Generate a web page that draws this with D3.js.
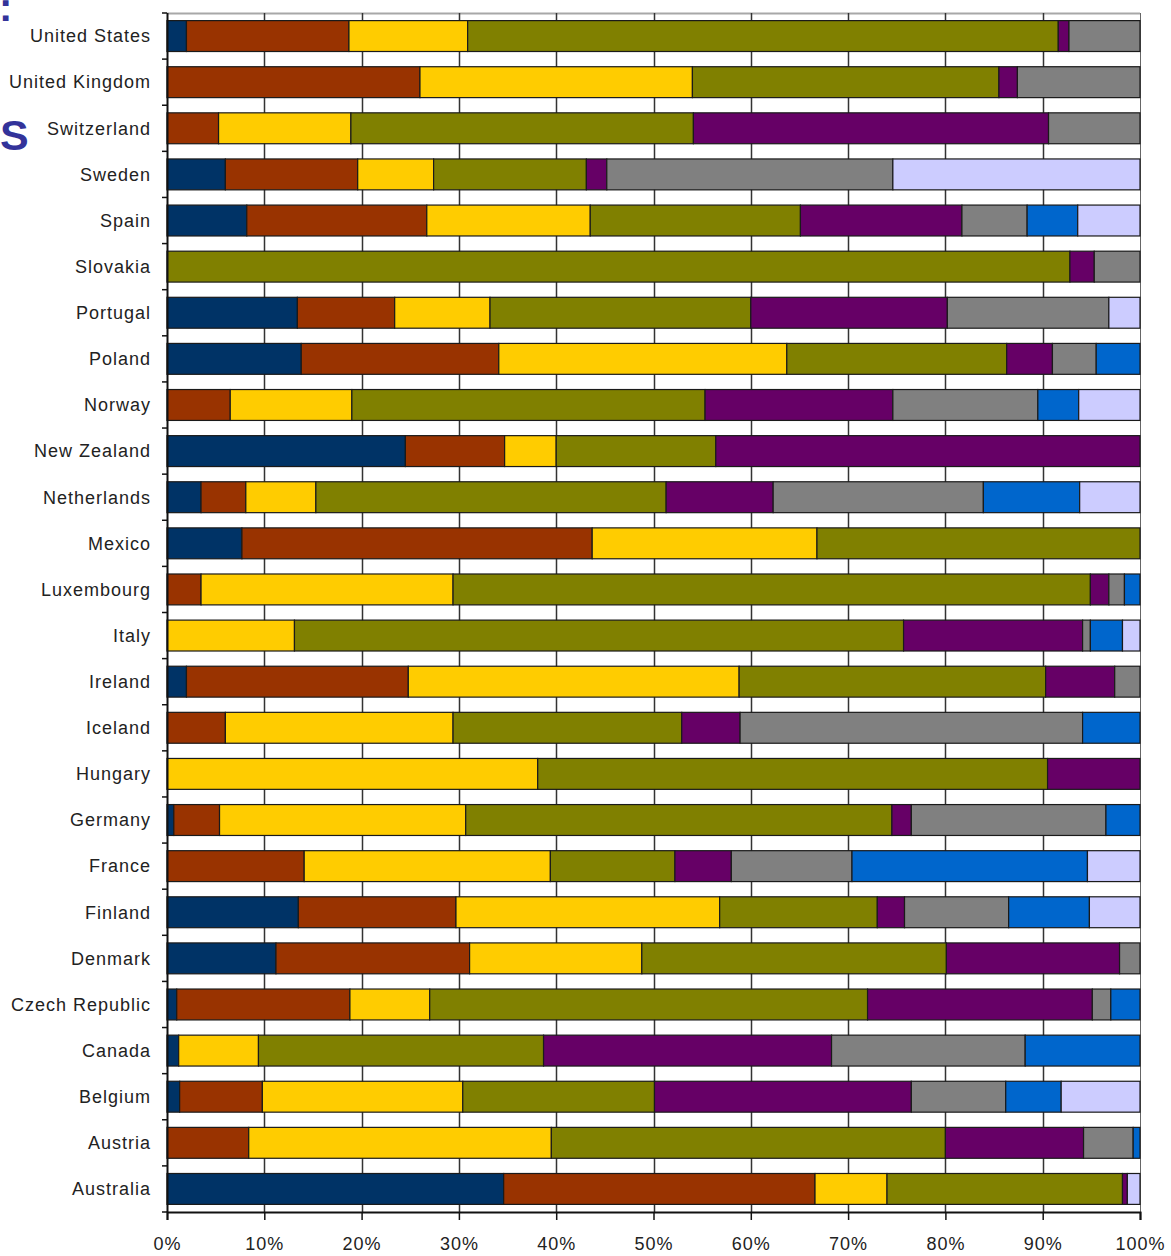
<!DOCTYPE html>
<html>
<head>
<meta charset="utf-8">
<script src="https://cdn.jsdelivr.net/npm/d3@7"></script>
<style>
  body { margin: 0; background: #fff; }
  svg { display: block; }
  .label { font-family: "Liberation Sans", Arial, sans-serif; font-size: 18px; letter-spacing: 1px; fill: #222; }
  .tick-x { font-family: "Liberation Sans", Arial, sans-serif; font-size: 18px; letter-spacing: 1px; fill: #222; }
  .title { font-family: "Liberation Sans", Arial, sans-serif; font-weight: bold; fill: #33339a; }
</style>
</head>
<body>
<div id="chart"></div>
<script>
// countries, top to bottom
var countries = ["United States", "United Kingdom", "Switzerland", "Sweden", "Spain", "Slovakia",
  "Portugal", "Poland", "Norway", "New Zealand", "Netherlands", "Mexico", "Luxembourg", "Italy",
  "Ireland", "Iceland", "Hungary", "Germany", "France", "Finland", "Denmark", "Czech Republic",
  "Canada", "Belgium", "Austria", "Australia"];

// shares in percent, one value per country, same order as above
var navy =     [2.0, 0, 0, 6.0, 8.2, 0, 13.4, 13.8, 0, 24.5, 3.5, 7.7, 0, 0, 2.0, 0, 0, 0.7, 0, 13.5, 11.2, 1.0, 1.2, 1.3, 0, 34.6];
var brown =    [16.7, 26.0, 5.3, 13.6, 18.5, 0, 10.0, 20.3, 6.5, 10.2, 4.6, 36.0, 3.5, 0, 22.8, 6.0, 0, 4.7, 14.1, 16.2, 19.9, 17.8, 0, 8.5, 8.4, 32.0];
var yellow =   [12.2, 28.0, 13.6, 7.8, 16.8, 0, 9.8, 29.6, 12.5, 5.3, 7.2, 23.1, 25.9, 13.1, 34.0, 23.4, 38.1, 25.3, 25.3, 27.1, 17.7, 8.2, 8.2, 20.6, 31.1, 7.4];
var olive =    [60.7, 31.5, 35.2, 15.7, 21.6, 92.8, 26.8, 22.6, 36.3, 16.4, 36.0, 33.2, 65.5, 62.6, 31.5, 23.5, 52.4, 43.8, 12.8, 16.2, 31.3, 45.0, 29.3, 19.7, 40.5, 24.2];
var purple =   [1.1, 1.9, 36.5, 2.1, 16.6, 2.5, 20.2, 4.7, 19.3, 43.6, 11.0, 0, 1.9, 18.4, 7.1, 6.0, 9.5, 2.0, 5.8, 2.8, 17.8, 23.1, 29.6, 26.4, 14.2, 0.5];
var gray =     [7.3, 12.6, 9.4, 29.4, 6.7, 4.7, 16.6, 4.5, 14.9, 0, 21.6, 0, 1.6, 0.8, 2.6, 35.2, 0, 20.0, 12.4, 10.7, 2.1, 1.9, 19.9, 9.7, 5.1, 0];
var blue =     [0, 0, 0, 0, 5.2, 0, 0, 4.5, 4.2, 0, 9.9, 0, 1.6, 3.3, 0, 5.9, 0, 3.5, 24.2, 8.3, 0, 3.0, 11.8, 5.7, 0.7, 0];
var lavender = [0, 0, 0, 25.4, 6.4, 0, 3.2, 0, 6.3, 0, 6.2, 0, 0, 1.8, 0, 0, 0, 0, 5.4, 5.2, 0, 0, 0, 8.1, 0, 1.3];

var seriesNames = ["navy", "brown", "yellow", "olive", "purple", "gray", "blue", "lavender"];
var seriesValues = [navy, brown, yellow, olive, purple, gray, blue, lavender];
var seriesColors = ["#003366", "#993300", "#ffcc00", "#808000", "#660066", "#808080", "#0066cc", "#ccccff"];

var xTicks = [0, 10, 20, 30, 40, 50, 60, 70, 80, 90, 100];

var width = 1171;
var height = 1256;
var margin = { top: 13, right: 31, bottom: 44, left: 167 };
var innerW = width - margin.left - margin.right;
var innerH = height - margin.top - margin.bottom;

// table the stack needs
var rows = countries.map(function(c, i) {
  var r = { country: c };
  seriesNames.forEach(function(s, j) { r[s] = seriesValues[j][i]; });
  return r;
});

var stack = d3.stack().keys(seriesNames);
var layers = stack(rows);

var x = d3.scaleLinear().domain([0, 100]).range([0, innerW]);
var y = d3.scaleBand().domain(countries).range([0, innerH])
  .paddingInner(0.33).paddingOuter(0.165);

var svg = d3.select("#chart").append("svg")
  .attr("width", width)
  .attr("height", height);

// slide title fragments at the left edge
svg.append("text").attr("class", "title")
  .attr("x", -1).attr("y", 21).style("font-size", "40px").text(":");
svg.append("text").attr("class", "title")
  .attr("x", 0).attr("y", 150).style("font-size", "43px").text("S");

var g = svg.append("g").attr("transform", "translate(" + margin.left + "," + margin.top + ")");

// top and right frame
g.append("line").attr("x1", 0).attr("x2", innerW).attr("y1", 0.5).attr("y2", 0.5)
  .attr("stroke", "#a8a8a8").attr("stroke-width", 2);
g.append("line").attr("x1", innerW + 0.5).attr("x2", innerW + 0.5).attr("y1", 0).attr("y2", innerH)
  .attr("stroke", "#666").attr("stroke-width", 1);

// vertical gridlines
g.append("g").selectAll("line")
  .data(xTicks.slice(1, -1))
  .join("line")
  .attr("x1", function(d) { return Math.round(x(d)) + 0.5; })
  .attr("x2", function(d) { return Math.round(x(d)) + 0.5; })
  .attr("y1", 0).attr("y2", innerH)
  .attr("stroke", "#333").attr("stroke-width", 1.5);

// bars
g.append("g").selectAll("g")
  .data(layers)
  .join("g")
  .attr("fill", function(d, i) { return seriesColors[i]; })
  .selectAll("rect")
  .data(function(d) { return d.filter(function(p) { return p[1] - p[0] > 0; }); })
  .join("rect")
  .attr("x", function(d) { return x(d[0]); })
  .attr("width", function(d) { return x(d[1]) - x(d[0]); })
  .attr("y", function(d) { return y(d.data.country); })
  .attr("height", y.bandwidth())
  .attr("stroke", "#1a1a1a")
  .attr("stroke-width", 1.2);

// left axis: tick marks at category boundaries
var bounds = d3.range(countries.length + 1).map(function(i) { return i * innerH / countries.length; });
g.append("line").attr("x1", 0.5).attr("x2", 0.5).attr("y1", 0).attr("y2", innerH)
  .attr("stroke", "#111").attr("stroke-width", 2);
g.append("g").selectAll("line")
  .data(bounds)
  .join("line")
  .attr("x1", -5).attr("x2", 0)
  .attr("y1", function(d) { return d; }).attr("y2", function(d) { return d; })
  .attr("stroke", "#111").attr("stroke-width", 1.5);

// country labels
g.append("g").selectAll("text")
  .data(countries)
  .join("text")
  .attr("class", "label")
  .attr("x", -16)
  .attr("y", function(d) { return y(d) + y.bandwidth() / 2; })
  .attr("dy", "0.35em")
  .attr("text-anchor", "end")
  .text(function(d) { return d; });

// bottom axis
var xAxis = d3.axisBottom(x)
  .tickValues(xTicks)
  .tickFormat(function(d) { return d + "%"; })
  .tickSize(8)
  .tickPadding(17);

var ax = g.append("g")
  .attr("transform", "translate(0," + innerH + ")")
  .call(xAxis);
ax.select(".domain").attr("stroke", "#111").attr("stroke-width", 2);
ax.selectAll(".tick line").attr("stroke", "#111").attr("stroke-width", 1.5);
ax.selectAll(".tick text").attr("class", "tick-x").attr("fill", "#222");
</script>
</body>
</html>
